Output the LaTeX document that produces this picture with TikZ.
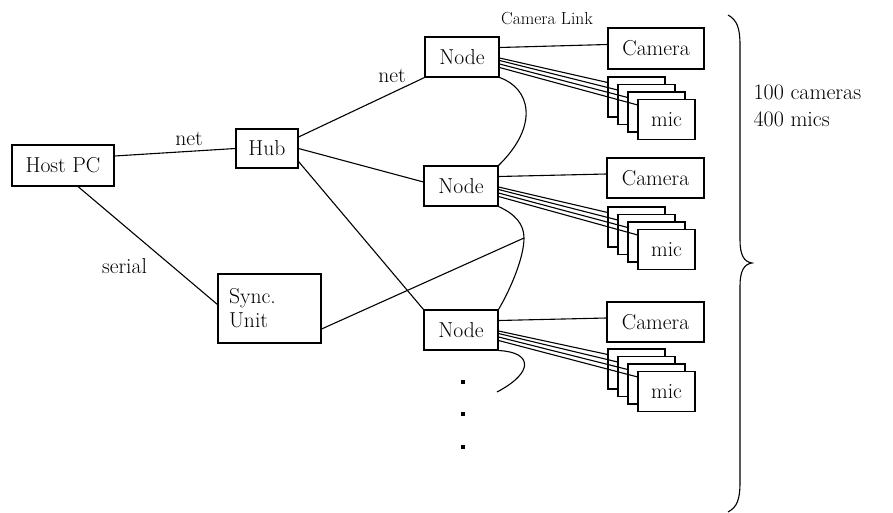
\documentclass[tikz,border=0pt]{standalone}
\usetikzlibrary{calc}
\begin{document}
\begin{tikzpicture}[x=1pt,y=-1pt,line width=1.1pt,
  unit/.style={draw,fill=white,inner sep=0pt,font=\rmfamily\fontsize{21.6}{25}\selectfont},
  lbl/.style={inner sep=0pt,font=\rmfamily\fontsize{21.6}{25}\selectfont},
  small/.style={inner sep=0pt,font=\rmfamily\fontsize{17.5}{21}\selectfont},
  dotmark/.style={fill,minimum size=4pt,inner sep=0pt}]
\useasboundingbox (0,0) rectangle (893,513);

% host side
\node[unit,minimum width=102pt,minimum height=41pt] (host) at (63,165.5) {Host PC};
\node[unit,minimum width=62pt,minimum height=39pt] (hub) at (267,148.5) {Hub};
\node[unit,minimum width=103pt,minimum height=69pt,text width=81pt,inner xsep=11pt,align=left] (sync) at (269.5,308.5) {Sync.\\[-1pt]Unit};

% capture nodes and cameras
\node[unit,minimum width=74pt,minimum height=40pt] (n1) at (462,57) {Node};
\node[unit,minimum width=74pt,minimum height=40pt] (n2) at (461,186) {Node};
\node[unit,minimum width=74pt,minimum height=40pt] (n3) at (461,330) {Node};
\node[unit,minimum width=96pt,minimum height=41pt] (cam1) at (656,48.5) {Camera};
\node[unit,minimum width=97pt,minimum height=40pt] (cam2) at (655.5,178) {Camera};
\node[unit,minimum width=97pt,minimum height=40pt] (cam3) at (655.5,322) {Camera};

% stacks of four microphones per node
\foreach \s/\Y in {1/77,2/207,3/349}{
  \foreach \k in {0,1,2}{
    \node[unit,minimum width=57pt,minimum height=40pt] (mic\s\k) at ({636.5+10*\k},{\Y+20+7.5*\k}) {};
  }
  \node[unit,minimum width=57pt,minimum height=40pt] (mic\s3) at (666.5,{\Y+42.5}) {mic};
  % node to camera link
  \draw ($(n\s.east)+(0,-9.5)$) -- ($(cam\s.west)+(0,-4)$);
  % node to microphone cables
  \foreach \k/\dy in {0/1,1/3.5,2/7,3/10.5}{
    \draw ($(n\s.east)+(0,\dy)$) -- ($(mic\s\k.north west)+(0,6)$);
  }
}

% network
\draw ($(host.east)+(0,-9.5)$) -- (hub.west);
\draw ([yshift=11.5pt]hub.east) -- (n1.south west);
\draw (hub.east) -- ($(n2.west)+(0,-4)$);
\draw ([yshift=-13pt]hub.east) -- (n3.north west);
\draw ($(host.south)+(15,0)$) -- ($(sync.west)+(0,-4)$);

% sync chain
\coordinate (tap) at (524,238);
\coordinate (chainend) at (497,392);
\draw (n1.south east) .. controls (530,88) and (540,125) .. (n2.north east);
\draw (n2.south east) .. controls (515,214) and (524,224) .. (tap)
      .. controls (524,258) and (510,290) .. (n3.north east);
\draw (n3.south east) .. controls (532,352) and (535,372) .. (chainend);
\draw ($(sync.east)+(0,20.5)$) -- (tap);

% more nodes
\node[dotmark] (d1) at (463,382) {};
\node[dotmark] (d2) at (463,414) {};
\node[dotmark] (d3) at (463,447) {};

% labels
\node[lbl,anchor=base] (lnet1) at (189,146) {net};
\node[lbl,anchor=base] (lnet2) at (392,83) {net};
\node[lbl,anchor=base] (lser) at (124.5,273) {serial};
\node[small,anchor=base] (lcl) at (547,25) {Camera Link};

% brace and totals
\draw (728,15) .. controls (737,20) and (740,28) .. (740,45) -- (740,240)
      .. controls (740,255) and (744,262) .. (752,263)
      .. controls (744,264) and (740,271) .. (740,286) -- (740,482)
      .. controls (740,500) and (737,507) .. (728,512);
\node[lbl,anchor=base west,font=\rmfamily\fontsize{22}{25}\selectfont] (tot1) at (753,100) {100 cameras};
\node[lbl,anchor=base west,font=\rmfamily\fontsize{22}{25}\selectfont] (tot2) at (753,127) {400 mics};
\end{tikzpicture}
\end{document}
